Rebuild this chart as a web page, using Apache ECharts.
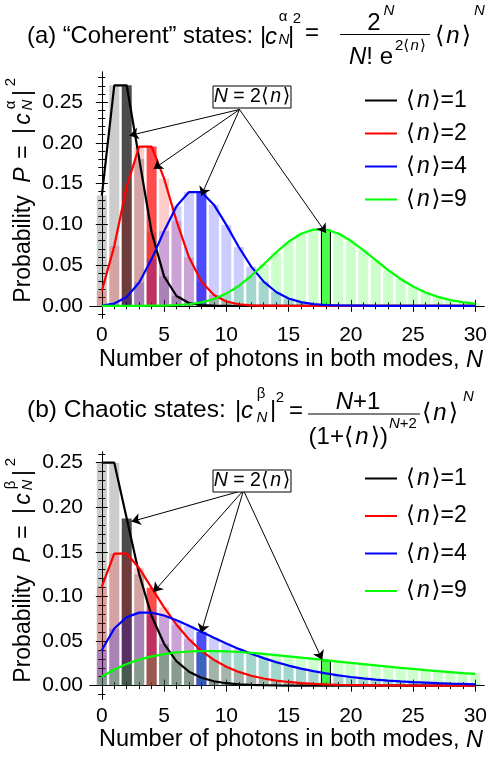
<!DOCTYPE html>
<html>
<head>
<meta charset="utf-8">
<script src="https://cdn.jsdelivr.net/npm/echarts@6/dist/echarts.min.js"></script>
<style>
html, body { margin: 0; padding: 0; background: #fff; }
#chart { width: 490px; height: 757px; }
</style>
</head>
<body>
<div id="chart"></div>
<script>
// photon numbers and mean photon numbers
const photonN = [0,1,2,3,4,5,6,7,8,9,10,11,12,13,14,15,16,17,18,19,20,21,22,23,24,25,26,27,28,29,30];
const meanN = [1, 2, 4, 9];

// (a) coherent states
const coherentN1 = [0.1353,0.2707,0.2707,0.1804,0.0902,0.0361,0.0120,0.0034,0.0009,0.0002,0.00004,0.00001,0,0,0,0,0,0,0,0,0,0,0,0,0,0,0,0,0,0,0];
const coherentN2 = [0.0183,0.0733,0.1465,0.1954,0.1954,0.1563,0.1042,0.0595,0.0298,0.0132,0.0053,0.0019,0.0006,0.0002,0.0001,0,0,0,0,0,0,0,0,0,0,0,0,0,0,0,0];
const coherentN4 = [0.0003,0.0027,0.0107,0.0286,0.0573,0.0916,0.1221,0.1396,0.1396,0.1241,0.0993,0.0722,0.0481,0.0296,0.0169,0.0090,0.0045,0.0021,0.0009,0.0004,0.0002,0.0001,0,0,0,0,0,0,0,0,0];
const coherentN9 = [0,0,0,0,0.0001,0.0002,0.0007,0.0019,0.0042,0.0083,0.0150,0.0245,0.0368,0.0509,0.0655,0.0786,0.0884,0.0936,0.0936,0.0887,0.0798,0.0684,0.0560,0.0438,0.0329,0.0237,0.0164,0.0109,0.0070,0.0044,0.0026];

// (b) chaotic states
const chaoticN1 = [0.25,0.25,0.1875,0.125,0.0781,0.0469,0.0273,0.0156,0.0088,0.0049,0.0027,0.0015,0.0008,0.0004,0.0002,0.0001,0.0001,0,0,0,0,0,0,0,0,0,0,0,0,0,0];
const chaoticN2 = [0.1111,0.1481,0.1481,0.1317,0.1097,0.0878,0.0683,0.0520,0.0390,0.0289,0.0212,0.0154,0.0111,0.0080,0.0057,0.0041,0.0029,0.0020,0.0014,0.0010,0.0007,0.0005,0.0003,0.0002,0.0002,0.0001,0.0001,0.0001,0,0,0];
const chaoticN4 = [0.04,0.064,0.0768,0.0819,0.0819,0.0786,0.0734,0.0671,0.0604,0.0537,0.0472,0.0412,0.0357,0.0308,0.0264,0.0225,0.0191,0.0162,0.0137,0.0115,0.0097,0.0081,0.0068,0.0057,0.0047,0.0039,0.0033,0.0027,0.0022,0.0019,0.0015];
const chaoticN9 = [0.01,0.018,0.0243,0.0292,0.0328,0.0354,0.0372,0.0383,0.0387,0.0387,0.0384,0.0377,0.0367,0.0356,0.0343,0.0329,0.0315,0.0300,0.0285,0.0270,0.0255,0.0241,0.0227,0.0213,0.0199,0.0187,0.0174,0.0163,0.0152,0.0141,0.0131];

// tick values
const xMajor = [0, 5, 10, 15, 20, 25, 30];
const yMajorA = [0, 0.05, 0.10, 0.15, 0.20, 0.25];
const yMajorB = [0, 0.05, 0.10, 0.15, 0.20, 0.25];

// arrow annotations (data coords): start point, then tips
const arrowFromA = [11.06, 0.241];
const arrowTipsA = [[2.23, 0.209], [4.16, 0.168], [7.98, 0.135], [18.0, 0.0894]];
const arrowFromB = [11.38, 0.219];
const arrowTipsB = [[2.38, 0.184], [4.15, 0.105], [7.97, 0.059], [17.7, 0.029]];

const panels = [
  { values: [coherentN1, coherentN2, coherentN4, coherentN9], yMin: -0.015, yMax: 0.287, yMajor: yMajorA, from: arrowFromA, tips: arrowTipsA },
  { values: [chaoticN1, chaoticN2, chaoticN4, chaoticN9], yMin: -0.015, yMax: 0.262, yMajor: yMajorB, from: arrowFromB, tips: arrowTipsB }
];

const FONT = "'Liberation Sans', 'DejaVu Sans', Arial, sans-serif";
const lineColors = ['#000000', '#ff0000', '#0000ff', '#00ff00'];
const lightColors = ['rgba(0,0,0,0.2)', 'rgba(255,0,0,0.2)', 'rgba(0,0,255,0.2)', 'rgba(0,255,0,0.2)'];
const darkColors = ['rgba(0,0,0,0.7)', 'rgba(255,0,0,0.7)', 'rgba(0,0,255,0.7)', 'rgba(0,255,0,0.7)'];
const HS = '\u200A'; // hair space around n inside the angle brackets

const xMinor = [];
for (let i = 0; i <= 30; i++) xMinor.push(i);
function yMinorTicks(max) {
  const out = [-0.01];
  for (let i = 0; i / 100 < max; i++) out.push(+(i / 100).toFixed(2));
  return out;
}

const tickStyle = { color: '#000', width: 1 };

function axesFor(g, p) {
  const xs = [], ys = [];
  const xBase = { type: 'value', gridIndex: g, min: -0.95, max: 30.7, splitLine: { show: false } };
  const yBase = { type: 'value', gridIndex: g, min: p.yMin, max: p.yMax, splitLine: { show: false } };
  const lbl = { color: '#000', fontSize: 21, fontFamily: FONT, margin: 7 };
  const mk = (base, pos, line, major, ticks, label) => Object.assign({}, base, {
    position: pos,
    axisLine: { show: line, lineStyle: tickStyle },
    axisTick: { show: true, inside: true, length: major ? 6 : 3.5, lineStyle: tickStyle, customValues: ticks },
    axisLabel: label || { show: false }
  });
  const yMinor = yMinorTicks(p.yMax);
  xs.push(
    mk(xBase, 'bottom', true, true, xMajor, Object.assign({ customValues: xMajor }, lbl)),
    mk(xBase, 'bottom', false, false, xMinor),
    mk(xBase, 'top', true, true, xMajor),
    mk(xBase, 'top', false, false, xMinor)
  );
  ys.push(
    mk(yBase, 'left', true, true, p.yMajor, Object.assign({ customValues: p.yMajor, formatter: v => v.toFixed(2) }, lbl)),
    mk(yBase, 'left', false, false, yMinor),
    mk(yBase, 'right', true, true, p.yMajor),
    mk(yBase, 'right', false, false, yMinor)
  );
  return { xs, ys };
}

const xAxis = [], yAxis = [], series = [];
panels.forEach((p, g) => {
  const a = axesFor(g, p);
  xAxis.push(...a.xs);
  yAxis.push(...a.ys);
  // bars (transparent, overlapping); the bar at N = 2<n> is highlighted
  p.values.forEach((vals, k) => {
    const hl = 2 * meanN[k];
    series.push({
      type: 'bar',
      name: 'bars' + g + '_' + k,
      xAxisIndex: 4 * g, yAxisIndex: 4 * g,
      barWidth: 10, barGap: '-100%',
      silent: true,
      itemStyle: { color: lightColors[k] },
      data: photonN.map((x, i) => i === hl
        ? { value: [x, vals[i]], itemStyle: { color: darkColors[k], borderColor: k === 3 ? '#000' : 'transparent', borderWidth: k === 3 ? 1 : 0 } }
        : [x, vals[i]])
    });
  });
  p.values.forEach((vals, k) => {
    const s = {
      type: 'line',
      name: '⟨n⟩=' + meanN[k],
      xAxisIndex: 4 * g, yAxisIndex: 4 * g,
      symbol: 'none',
      z: 3,
      lineStyle: { color: lineColors[k], width: 2.2 },
      itemStyle: { color: lineColors[k] },
      data: photonN.map((x, i) => [x, vals[i]])
    };
    if (k === 3) {
      s.markLine = {
        silent: true,
        symbol: ['none', 'arrow'],
        symbolSize: 9,
        label: { show: false },
        lineStyle: { color: '#000', width: 1, type: 'solid' },
        data: p.tips.map(t => [{ coord: p.from }, { coord: t }])
      };
    }
    series.push(s);
  });
});

function richFor(size) {
  return {
    r: { fontSize: size, fontFamily: FONT, fill: '#000', color: '#000' },
    i: { fontSize: size, fontFamily: FONT, fontStyle: 'italic', fill: '#000', color: '#000' }
  };
}
function txt(x, y, text, size, align, italic, rot) {
  return {
    type: 'text', x: x, y: y, rotation: rot || 0, z: 100, silent: true,
    style: { text: text, font: (italic ? 'italic ' : '') + size + 'px ' + FONT, fill: '#000', align: align || 'center', verticalAlign: 'middle' }
  };
}
function rtxt(x, y, text, size, align, rot) {
  return {
    type: 'text', x: x, y: y, rotation: rot || 0, z: 100, silent: true,
    style: { text: text, rich: richFor(size), font: size + 'px ' + FONT, fill: '#000', align: align || 'center', verticalAlign: 'middle' }
  };
}
function hline(x1, x2, y) {
  return { type: 'line', z: 100, silent: true, shape: { x1: x1, y1: y, x2: x2, y2: y }, style: { stroke: '#000', lineWidth: 1 } };
}
const avg = '{r|⟨' + HS + '}{i|n}{r|' + HS + '⟩';

const graphic = [];
// title (a)
graphic.push(
  txt(27, 36, '(a) “Coherent” states:', 23.8, 'left'),
  txt(263, 36, '|', 24),
  txt(271, 37, 'c', 24, 'center', true),
  txt(283, 17, 'α', 15),
  txt(284, 40, 'N', 15, 'center', true),
  txt(291, 36, '|', 24),
  txt(297, 19, '2', 15),
  txt(312, 33, '=', 24),
  hline(340, 430, 34.5),
  txt(374, 23, '2', 24),
  txt(389, 11, 'N', 15, 'center', true),
  rtxt(393, 57, '{i|N}{r|! e}', 24, 'right'),
  rtxt(395, 46, '{r|2}' + avg + '}', 15, 'left'),
  rtxt(435, 36, avg + '}', 24, 'left'),
  txt(474, 11, 'N', 15, 'left', true)
);
// title (b)
graphic.push(
  txt(27, 410, '(b) Chaotic states:', 24.5, 'left'),
  txt(238, 410, '|', 24),
  txt(247, 411, 'c', 24, 'center', true),
  txt(261, 394, 'β', 15),
  txt(262, 418, 'N', 15, 'center', true),
  txt(273, 410, '|', 24),
  txt(280, 398, '2', 15),
  txt(296, 411, '=', 24),
  hline(308, 420, 414),
  rtxt(358, 402, '{i|N}{r|+1}', 24, 'center'),
  rtxt(388, 437, '{r|(1+}' + avg + ')}', 24, 'right'),
  rtxt(389, 424, '{i|N}{r|+2}', 15, 'left'),
  rtxt(422, 413, avg + '}', 24, 'left'),
  txt(463, 397, 'N', 15, 'left', true)
);
// rotated y-axis titles
const ROT = Math.PI / 2;
[[306, 'α'], [686, 'β']].forEach(([z0, sym]) => {
  graphic.push(
    txt(24, z0 - 57, 'Probability', 23, 'center', false, ROT),
    txt(24, z0 - 131, 'P', 23, 'center', true, ROT),
    txt(24, z0 - 154, '=', 23, 'center', false, ROT),
    txt(24, z0 - 175, '|', 23, 'center', false, ROT),
    txt(24, z0 - 187, 'c', 23, 'center', true, ROT),
    txt(11, z0 - 201, sym, 15, 'center', false, ROT),
    txt(28, z0 - 201, 'N', 15, 'center', true, ROT),
    txt(24, z0 - 213, '|', 23, 'center', false, ROT),
    txt(11, z0 - 224, '2', 15, 'center', false, ROT)
  );
});
// x-axis titles
graphic.push(
  rtxt(291, 360, '{r|Number of photons in both modes, }{i|N}', 23.5, 'center'),
  rtxt(291, 740, '{r|Number of photons in both modes, }{i|N}', 23.5, 'center')
);
// N = 2<n> boxes
[[86, 97], [470, 481]].forEach(([top, cy]) => {
  graphic.push(
    { type: 'rect', z: 100, silent: true, shape: { x: 213, y: top, width: 78, height: 22 }, style: { fill: '#fff', stroke: '#000', lineWidth: 1 } },
    rtxt(252, cy, '{i|N}{r| = 2}' + avg + '}', 19.5, 'center')
  );
});

const legendNames = meanN.map(v => '⟨n⟩=' + v);
function legendFor(top, gap) {
  return {
    data: legendNames,
    orient: 'vertical',
    left: 360, top: top,
    icon: 'rect', itemWidth: 32, itemHeight: 2, itemGap: gap,
    selectedMode: false,
    formatter: name => avg + '=' + name.split('=')[1] + '}',
    textStyle: { fontSize: 23, fontFamily: FONT, color: '#000', padding: [0, 0, 0, 4], rich: richFor(23) }
  };
}

const chart = echarts.init(document.getElementById('chart'));
chart.setOption({
  animation: false,
  backgroundColor: '#fff',
  grid: [
    { left: 90, top: 72, width: 398, height: 246 },
    { left: 90, top: 452, width: 398, height: 247 }
  ],
  legend: [legendFor(84, 10), legendFor(462, 14.5)],
  xAxis: xAxis,
  yAxis: yAxis,
  series: series,
  graphic: graphic
});
</script>
</body>
</html>
